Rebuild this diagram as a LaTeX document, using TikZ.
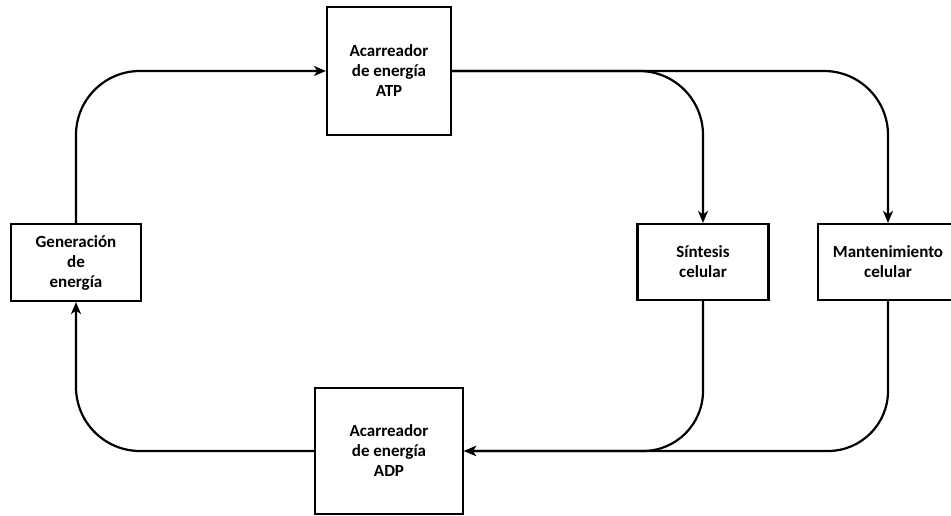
\documentclass[tikz,border=0pt]{standalone}
\usepackage{fontspec}
\setmainfont{Carlito}
\usepackage{tikz}
\usetikzlibrary{arrows.meta}

\begin{document}
\begin{tikzpicture}[x=1pt,y=1pt,>={Stealth[length=12pt,width=10pt,inset=3.5pt]},line width=2.2pt,
		                    box node/.style={rectangle,draw,align=center,inner sep=0pt,
		                    font=\fontsize{17}{20}\selectfont\bfseries}]
			\useasboundingbox (0,0) rectangle (951,516);
			% Nodes
			  \node[box node,minimum width=130,minimum height=77] (gen) at (76,253.5) {Generación\\de\\energía};
			  \node[box node,minimum width=124,minimum height=128] (atp) at (389,445) {Acarreador\\de energía\\ATP};
			  \node[box node,minimum width=148,minimum height=126] (adp) at (389,65) {Acarreador\\de energía\\ADP};
			  \node[box node,minimum width=131,minimum height=76] (sin) at (703,254) {Síntesis\\celular};
			  \node[box node,minimum width=140,minimum height=76] (man) at (888,254) {Mantenimiento\\celular};

			% Edges
			  \draw[->,rounded corners=64] (gen.north) |- (atp.west);
			  \draw[->,rounded corners=64] (atp.east) -| (sin.north);
			  \draw[->,rounded corners=64] (atp.east) -| (man.north);
			  \draw[->,rounded corners=60] (sin.south) |- (adp.east);
			  \draw[->,rounded corners=60] (man.south) |- (adp.east);
			  \draw[->,rounded corners=64] (adp.west) -| (gen.south);
			\end{tikzpicture}
\end{document}
